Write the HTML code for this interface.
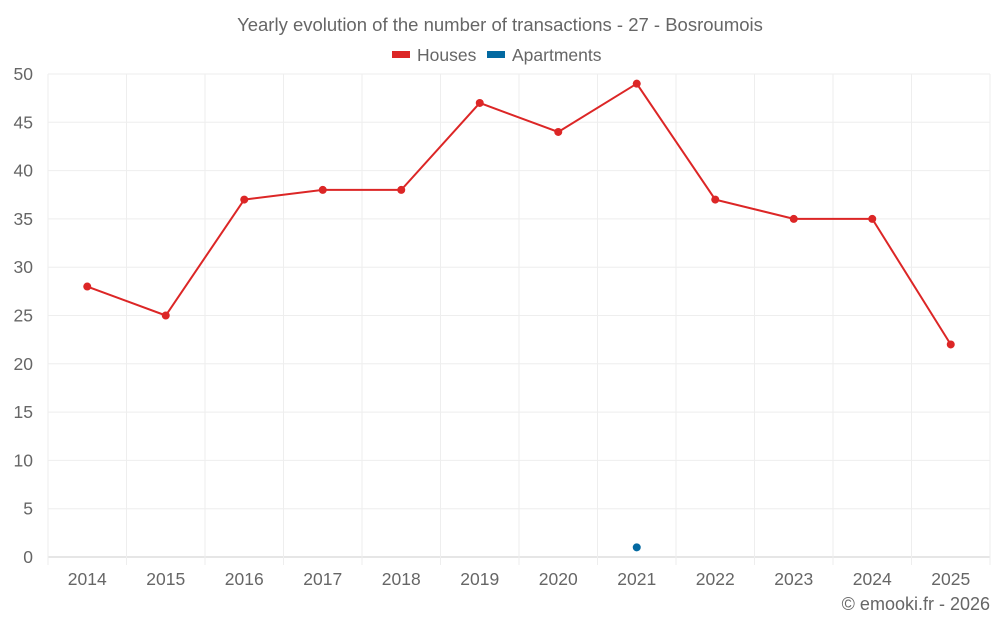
<!DOCTYPE html>
<html><head><meta charset="utf-8"><style>
body{margin:0;background:#fff;font-family:"Liberation Sans",sans-serif}
svg text{font-family:"Liberation Sans",sans-serif;fill:#666}
</style></head><body>
<svg id="c" width="1000" height="625">
<text x="500" y="31" text-anchor="middle" font-size="18.5">Yearly evolution of the number of transactions - 27 - Bosroumois</text>
<g><rect x="392" y="51" width="18" height="7" fill="#dc2626"/><text x="417" y="61" font-size="17.5">Houses</text></g>
<g><rect x="487" y="51" width="18" height="7" fill="#0369a1"/><text x="512" y="61" font-size="17.5">Apartments</text></g>
<g id="grid"></g><g id="marks"></g>
<text x="990" y="610" text-anchor="end" font-size="18">© emooki.fr - 2026</text>
</svg>
<script>
const categories=["2014","2015","2016","2017","2018","2019","2020","2021","2022","2023","2024","2025"];
const houses=[28,25,37,38,38,47,44,49,37,35,35,22];
const apartments=[null,null,null,null,null,null,null,1,null,null,null,null];
const yTicks=[0,5,10,15,20,25,30,35,40,45,50];
const L=48,R=990,T=74,B=557,yMax=50;
const bw=(R-L)/categories.length;
const x=i=>L+bw*(i+0.5);
const y=v=>B-(v/yMax)*(B-T);
const NS="http://www.w3.org/2000/svg";
const grid=document.getElementById('grid'),marks=document.getElementById('marks');
function mk(p,tag,a){const e=document.createElementNS(NS,tag);for(const k in a)e.setAttribute(k,a[k]);p.appendChild(e);return e;}
yTicks.forEach(t=>{
 const l=mk(grid,'line',{x1:L,x2:R,y1:y(t),y2:y(t),stroke:t===0?'#ccc':'#eee'});
 
 
 const tx=mk(grid,'text',{x:33,y:y(t)+6,'text-anchor':'end','font-size':17.5});
 tx.textContent=t;
 
 
});
for(let i=0;i<=categories.length;i++){
 const gx=L+bw*i;
 const l=mk(grid,'line',{x1:gx,x2:gx,y1:T,y2:B+8,stroke:'#eee'});
 
 
}
categories.forEach((c,i)=>{
 const tx=mk(grid,'text',{x:x(i),y:585,'text-anchor':'middle','font-size':17.5});
 tx.textContent=c;
 
 
});
const pl=mk(marks,'polyline',{points:houses.map((v,i)=>x(i)+','+y(v)).join(' '),fill:'none',stroke:'#dc2626','stroke-width':2});


houses.forEach((v,i)=>{
 const c=mk(marks,'circle',{cx:x(i),cy:y(v),r:4,fill:'#dc2626'});
 
 
});
apartments.forEach((v,i)=>{
 if(v==null)return;
 const c=mk(marks,'circle',{cx:x(i),cy:y(v),r:4,fill:'#0369a1'});
 
 
});
</script>
</body></html>
